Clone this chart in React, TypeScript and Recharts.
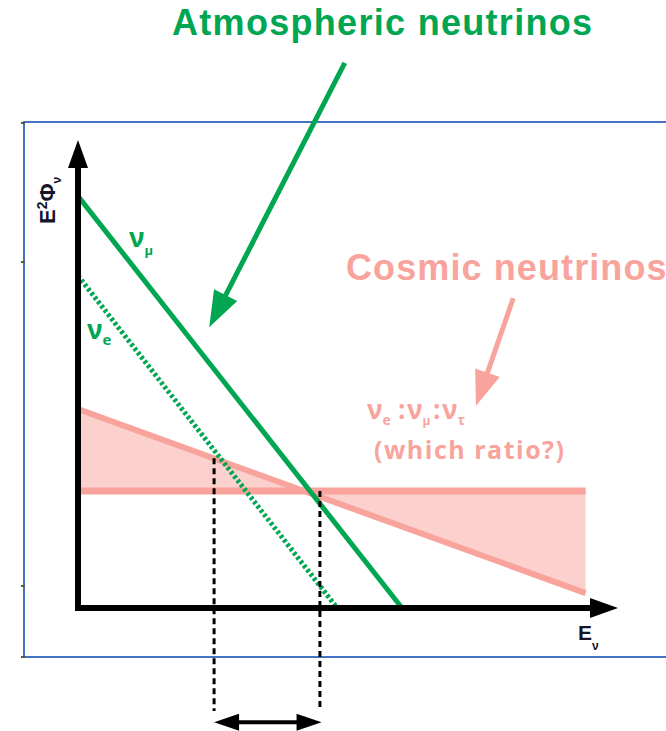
import React from 'react'
import { ComposedChart, XAxis, YAxis, Line, Area, ReferenceLine } from 'recharts'

// schematic units: x = E_nu, y = E^2 Phi
const muX = [0, 60]
const muFlux = [88, 0]
const eX = [0, 48]
const eFlux = [71, 0]
const cosmicX = [0, 94]
const cosmicSoft = [42.5, 3.2]
const cosmicFlat = [25, 25]
const windowX = [25.2, 44.8]
const windowTop = [32, 25]
const windowFloor = -22
const windowArrowY = -24.4
const axisMax = { x: 100, y: 100 }
const atmArrow = [
  { x: 49.4, y: 116.5 },
  { x: 24.3, y: 60 },
]
const cosmicArrow = [
  { x: 80.6, y: 66.2 },
  { x: 73.7, y: 43.2 },
]

const GREEN = '#00a651'
const PINK = '#f8a39c'
const PINK_FILL = '#fcd0cc'
const FRAME = '#4472c4'
const INK = '#15152a'
const SANS = 'Liberation Sans, Arial, sans-serif'
const ROUND = '"Open Sans", "DejaVu Sans", sans-serif'

const toPoints = (xs: number[], ys: number[]) => xs.map((x, i) => ({ x, y: ys[i] }))

type ArrowOpts = { color: string; width: number; head: number; headWidth: number; both?: boolean; cap?: 'butt' | 'square' }

function makeArrow({ color, width, head, headWidth, both, cap = 'butt' }: ArrowOpts) {
  return (p: any) => {
    const { x1, y1, x2, y2 } = p
    const len = Math.hypot(x2 - x1, y2 - y1)
    const ux = (x2 - x1) / len
    const uy = (y2 - y1) / len
    const nx = -uy * (headWidth / 2)
    const ny = ux * (headWidth / 2)
    const tri = (tx: number, ty: number, dx: number, dy: number) => {
      const bx = tx - dx * head
      const by = ty - dy * head
      return `${tx},${ty} ${bx + nx},${by + ny} ${bx - nx},${by - ny}`
    }
    const sx = both ? x1 + ux * head * 0.8 : x1
    const sy = both ? y1 + uy * head * 0.8 : y1
    return (
      <g>
        <line
          x1={sx}
          y1={sy}
          x2={x2 - ux * head * 0.8}
          y2={y2 - uy * head * 0.8}
          stroke={color}
          strokeWidth={width}
          strokeLinecap={cap}
        />
        <polygon points={tri(x2, y2, ux, uy)} fill={color} />
        {both && <polygon points={tri(x1, y1, -ux, -uy)} fill={color} />}
      </g>
    )
  }
}

export default function App() {
  const mu = toPoints(muX, muFlux)
  const nue = toPoints(eX, eFlux)
  const soft = toPoints(cosmicX, cosmicSoft)
  const flat = toPoints(cosmicX, cosmicFlat)

  return (
    <div style={{ position: 'absolute', left: 0, top: 0, background: '#fff' }}>
      <ComposedChart width={666} height={731} margin={{ top: 140, right: 48, bottom: 20, left: 78 }}>
        <XAxis type="number" dataKey="x" domain={[0, axisMax.x]} allowDataOverflow hide />
        <YAxis type="number" dataKey="y" domain={[windowFloor, axisMax.y]} allowDataOverflow hide />

        {/* slide frame */}
        <rect x={24} y={122} width={700} height={535} fill="none" stroke={FRAME} strokeWidth={2} />
        {[123, 262, 586, 657].map((ty) => (
          <line key={ty} x1={21} y1={ty} x2={25} y2={ty} stroke="#555" strokeWidth={2} />
        ))}

        {/* cosmic: soft spectrum vs flat, band between them */}
        <Area
          data={soft}
          dataKey="y"
          type="linear"
          baseValue={cosmicFlat[0]}
          fill={PINK_FILL}
          fillOpacity={1}
          stroke="none"
          isAnimationActive={false}
        />
        <Line data={soft} dataKey="y" type="linear" stroke={PINK} strokeWidth={6} dot={false} isAnimationActive={false} />
        <Line data={flat} dataKey="y" type="linear" stroke={PINK} strokeWidth={7} dot={false} isAnimationActive={false} />

        {/* atmospheric */}
        <Line
          data={nue}
          dataKey="y"
          type="linear"
          stroke={GREEN}
          strokeWidth={5}
          strokeDasharray="3 2.4"
          dot={false}
          isAnimationActive={false}
        />
        <Line data={mu} dataKey="y" type="linear" stroke={GREEN} strokeWidth={5} dot={false} isAnimationActive={false} />

        {/* energy window */}
        {windowX.map((wx, i) => (
          <ReferenceLine
            key={wx}
            segment={[
              { x: wx, y: windowTop[i] },
              { x: wx, y: windowFloor },
            ]}
            stroke="#000"
            strokeWidth={3}
            strokeDasharray="6 4"
            ifOverflow="visible"
          />
        ))}
        <ReferenceLine
          segment={[
            { x: windowX[0], y: windowArrowY },
            { x: windowX[1] + 0.3, y: windowArrowY },
          ]}
          ifOverflow="visible"
          shape={makeArrow({ color: '#000', width: 4, head: 25, headWidth: 17, both: true })}
        />

        {/* axes */}
        <ReferenceLine
          segment={[
            { x: 0, y: 0 },
            { x: 0, y: axisMax.y },
          ]}
          ifOverflow="visible"
          shape={makeArrow({ color: '#000', width: 6, head: 28, headWidth: 20, cap: 'square' })}
        />
        <ReferenceLine
          segment={[
            { x: 0, y: 0 },
            { x: axisMax.x, y: 0 },
          ]}
          ifOverflow="visible"
          shape={makeArrow({ color: '#000', width: 6, head: 28, headWidth: 20, cap: 'square' })}
        />

        {/* pointer arrows */}
        <ReferenceLine
          segment={atmArrow}
          ifOverflow="visible"
          shape={makeArrow({ color: GREEN, width: 5, head: 36, headWidth: 26 })}
        />
        <ReferenceLine
          segment={cosmicArrow}
          ifOverflow="visible"
          shape={makeArrow({ color: PINK, width: 5, head: 35, headWidth: 26 })}
        />

        {/* titles */}
        <text x={172} y={35} fill={GREEN} fontFamily={SANS} fontWeight="bold" fontSize={36} letterSpacing={1.3}>
          Atmospheric neutrinos
        </text>
        <text x={346} y={280} fill={PINK} fontFamily={SANS} fontWeight="bold" fontSize={36} letterSpacing={1.1}>
          Cosmic neutrinos
        </text>

        {/* flavour labels */}
        <text x={129} y={247} fill={GREEN} fontFamily={ROUND} fontWeight="bold" fontSize={26}>
          ν<tspan fontSize={13} dy={8}>μ</tspan>
        </text>
        <text x={87} y={339} fill={GREEN} fontFamily={ROUND} fontWeight="bold" fontSize={26}>
          ν<tspan fontSize={15} dy={6}>e</tspan>
        </text>

        <text y={419} fill={PINK} fontFamily={ROUND} fontWeight="bold" fontSize={26}>
          <tspan x={367}>ν</tspan>
          <tspan fontSize={14} dy={6}>e</tspan>
          <tspan x={398} dy={-6}>:</tspan>
          <tspan x={407}>ν</tspan>
          <tspan fontSize={12} dy={6}>μ</tspan>
          <tspan x={433} dy={-6}>:</tspan>
          <tspan x={442}>ν</tspan>
          <tspan fontSize={14} dy={6}>τ</tspan>
        </text>
        <text x={374} y={459} fill={PINK} fontFamily={ROUND} fontWeight="bold" fontSize={25} letterSpacing={1.5}>
          (which ratio?)
        </text>

        {/* axis titles */}
        <text
          x={55}
          y={224}
          transform="rotate(-90, 55, 224)"
          fill={INK}
          fontFamily={SANS}
          fontWeight="bold"
          fontSize={22}
        >
          E<tspan fontSize={14} dy={-8}>2</tspan>
          <tspan dy={8}>Φ</tspan>
          <tspan fontSize={12} dy={6}>ν</tspan>
        </text>
        <text x={578} y={640} fill={INK} fontFamily={SANS} fontWeight="bold" fontSize={21}>
          E<tspan fontSize={12} dy={10}>ν</tspan>
        </text>
      </ComposedChart>
    </div>
  )
}
